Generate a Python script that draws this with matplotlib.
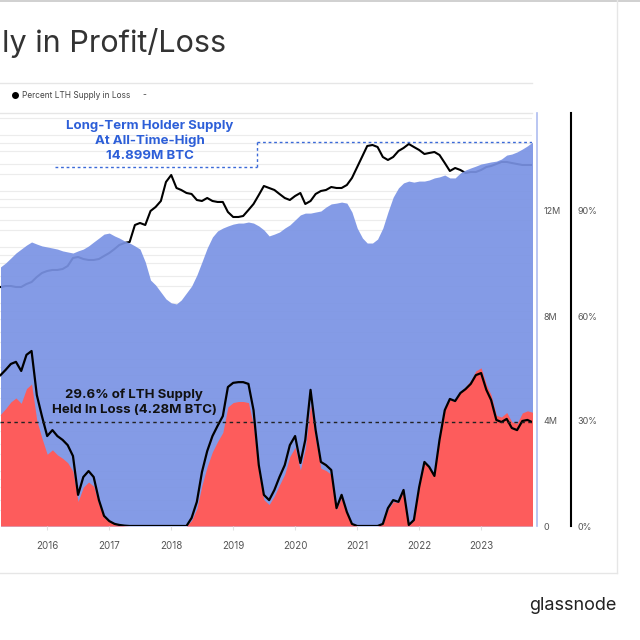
import matplotlib
matplotlib.use("Agg")
import matplotlib.pyplot as plt
from matplotlib.lines import Line2D
import matplotlib.ticker as mticker
import pandas as pd

# monthly values, Apr 2015 .. Nov 2023
lth_total_m = [
    9.87, 10.02, 10.21, 10.40, 10.55, 10.70, 10.82, 10.74, 10.67,                 # 2015
    10.63, 10.59, 10.55, 10.48, 10.44, 10.40, 10.48, 10.55, 10.67, 10.82, 10.97, 11.12,  # 2016
    11.16, 11.05, 10.97, 10.86, 10.78, 10.67, 10.55, 10.06, 9.37, 9.18, 8.91, 8.65,      # 2017
    8.50, 8.46, 8.61, 8.88, 9.14, 9.56, 10.06, 10.59, 11.01, 11.24, 11.35, 11.43,        # 2018
    11.50, 11.54, 11.54, 11.58, 11.54, 11.43, 11.28, 11.05, 11.12, 11.20, 11.35, 11.47,  # 2019
    11.66, 11.85, 11.92, 11.92, 11.96, 12.00, 12.15, 12.27, 12.30, 12.34, 12.30, 11.96,  # 2020
    11.35, 10.97, 10.78, 10.78, 10.93, 11.35, 11.96, 12.53, 12.88, 13.07, 13.14, 13.10,  # 2021
    13.14, 13.14, 13.18, 13.26, 13.30, 13.37, 13.26, 13.26, 13.45, 13.56, 13.64, 13.71,  # 2022
    13.79, 13.83, 13.87, 13.90, 13.98, 14.13, 14.17, 14.25, 14.36, 14.48, 14.63,         # 2023
]

pct_loss = [
    43.1, 44.6, 46.3, 46.9, 44.3, 48.9, 50.0, 37.4, 31.4,
    25.7, 27.4, 25.7, 24.6, 23.1, 20.0, 8.9, 14.0, 15.7, 14.0, 7.4, 2.9,
    1.4, 0.6, 0.3, 0.1, 0, 0, 0, 0, 0, 0, 0, 0,
    0, 0, 0, 0, 2.3, 6.9, 15.4, 21.4, 25.7, 28.6, 31.4, 39.7,
    40.9, 41.1, 41.1, 40.6, 33.1, 17.4, 8.9, 7.4, 10.3, 14.0, 17.4, 23.1,
    25.7, 18.0, 24.6, 38.9, 27.4, 18.3, 17.4, 16.0, 5.1, 8.9, 4.0, 0.6,
    0, 0, 0, 0, 0, 0.6, 5.1, 7.4, 6.9, 10.3, 0.3, 1.7,
    11.1, 18.3, 16.9, 14.3, 24.6, 33.1, 36.3, 35.7, 38.0, 39.1, 40.6, 43.1,
    43.7, 38.9, 36.0, 30.3, 29.7, 30.6, 28.0, 27.4, 30.0, 30.3, 29.6,
]

btc_price = [
    190, 198, 198, 190, 190, 215, 233, 287, 338,
    367, 383, 383, 398, 451, 627, 653, 601, 577, 577, 601, 680,
    770, 907, 1069, 1162, 1211, 2433, 2643, 2433, 4327, 5101, 6527, 14256,
    19011, 11140, 10263, 9072, 8707, 6800, 6527, 7385, 6527, 6271, 6271, 4153,
    3381, 3381, 3523, 4508, 5769, 8354, 12093, 11140, 10263, 8707, 7385, 6800,
    8017, 9072, 5769, 6527, 8707, 9848, 10263, 11600, 11140, 11140, 12600, 16808,
    26410, 41540, 62640, 65280, 60110, 39850, 35230, 39850, 51000, 57700, 68020, 60110,
    53140, 45070, 46970, 48930, 43270, 31140, 22410, 25360, 23350, 20650, 21500, 21500,
    23350, 26410, 27520, 29880, 32450, 32450, 31140, 29880, 28690, 28690, 28690,
]

years = ["2016", "2017", "2018", "2019", "2020", "2021", "2022", "2023"]

dates = pd.date_range("2015-04-01", periods=len(lth_total_m), freq="MS")
lth_loss_m = [t * p / 100 for t, p in zip(lth_total_m, pct_loss)]

plt.rcParams["font.family"] = ["Inter", "DejaVu Sans"]

W = H = 640
def fx(px):
    return px / W
def fy(py):
    return 1 - py / H

fig = plt.figure(figsize=(6.4, 6.4), dpi=100)
fig.patch.set_facecolor("white")

rect = [fx(0), fy(526), fx(532), (526 - 113) / H]
xmin, xmax = pd.Timestamp("2015-03-29"), pd.Timestamp("2023-10-28")

# price (log) axes at the bottom of the stack
axp = fig.add_axes(rect)
axp.set_yscale("log")
axp.set_ylim(10 ** -1.989, 10 ** 5.386)
axp.set_xlim(xmin, xmax)
axp.yaxis.set_major_locator(mticker.LogLocator(base=10, subs=(1, 2, 3, 5, 7), numticks=20))
axp.yaxis.set_minor_locator(mticker.NullLocator())
axp.grid(axis="y", color="#ececec", lw=0.8)
axp.plot(dates, btc_price, color="black", lw=1.5, zorder=3)
axp.set_yticklabels([])
axp.tick_params(axis="y", length=0)
axp.tick_params(axis="x", bottom=False, labelbottom=False)
for s in axp.spines.values():
    s.set_visible(False)

# supply axes
ax = fig.add_axes(rect, sharex=axp)
ax.patch.set_visible(False)
ax.fill_between(dates, 0, lth_total_m, color="#7a93e4", alpha=0.92, lw=0)
ax.fill_between(dates, 0, lth_loss_m, color="#fd5c5c", lw=0)
ax.set_ylim(0, 413 / 26.25)
ax.set_yticks([0, 4, 8, 12])
ax.set_yticklabels(["0", "4M", "8M", "12M"])
ax.yaxis.tick_right()
ax.tick_params(axis="y", length=0, pad=4.5, labelsize=6.5, labelcolor="#555555")
for k in ["top", "left", "bottom"]:
    ax.spines[k].set_visible(False)
ax.spines["right"].set_position(("outward", 3.6))
ax.spines["right"].set_color("#aebcf0")
ax.spines["right"].set_linewidth(1.2)

# ATH dashed guide
ath = lth_total_m[-1]
ux0, ux1 = pd.Timestamp("2016-02-16"), pd.Timestamp("2019-05-21")
uy = (526 - 167) / 26.25
dash_kw = dict(color="#3b6ad8", lw=1.0, dashes=(2, 2))
ax.plot([ux0, ux1], [uy, uy], **dash_kw)
ax.plot([ux1, ux1], [uy, ath], **dash_kw)
ax.plot([ux1, dates[-1]], [ath, ath], **dash_kw)

ax.tick_params(axis="x", length=3, color="#e0e0e0", pad=8, labelsize=7, labelcolor="#555555")
ax.set_xticks([pd.Timestamp(y + "-01-01") for y in years])
ax.set_xticklabels(years)
ax.set_xlim(xmin, xmax)

# percent axes on top
axc = fig.add_axes(rect, sharex=axp)
axc.patch.set_visible(False)
axc.plot(dates, pct_loss, color="black", lw=1.6)
axc.axhline(pct_loss[-1], color="#222222", lw=1.0, dashes=(2.5, 2.5))
axc.set_ylim(0, 413 / 3.5)
axc.set_yticks([0, 30, 60, 90])
axc.set_yticklabels(["0%", "30%", "60%", "90%"])
axc.yaxis.tick_right()
axc.tick_params(axis="y", length=0, pad=4.5, labelsize=6.5, labelcolor="#555555")
axc.tick_params(axis="x", bottom=False, labelbottom=False)
for k in ["top", "left", "bottom"]:
    axc.spines[k].set_visible(False)
axc.spines["right"].set_position(("outward", 28.1))
axc.spines["right"].set_color("black")
axc.spines["right"].set_linewidth(1.5)
axc.set_xlim(xmin, xmax)

# annotations
fig.text(fx(150), fy(141), "Long-Term Holder Supply\nAt All-Time-High\n14.899M BTC",
         ha="center", va="center", fontsize=9.5, fontweight="bold", color="#2d5fd8",
         linespacing=1.35)
fig.text(fx(134), fy(402), "29.6% of LTH Supply\nHeld In Loss (4.28M BTC)",
         ha="center", va="center", fontsize=9.5, fontweight="bold", color="#111111",
         linespacing=1.35)

# header (cropped in the source screenshot), legend and card frame
fig.text(fx(2), fy(43), "ly in Profit/Loss", ha="left", va="center",
         fontsize=22, color="#333333")
fig.add_artist(Line2D([fx(15)], [fy(95)], marker="o", ms=4, color="black",
                      transform=fig.transFigure))
fig.text(fx(22), fy(95), "Percent LTH Supply in Loss", ha="left", va="center",
         fontsize=6, color="#444444")
fig.text(fx(142), fy(95), "-", ha="left", va="center", fontsize=6, color="#444444")

line_kw = dict(transform=fig.transFigure, color="#e6e6e6", lw=1.0)
fig.add_artist(Line2D([0, 1], [fy(1), fy(1)], color="#c8c8c8", lw=1.2, transform=fig.transFigure))
fig.add_artist(Line2D([0, fx(532)], [fy(83), fy(83)], **line_kw))
fig.add_artist(Line2D([0, fx(532)], [fy(113), fy(113)], **line_kw))
fig.add_artist(Line2D([fx(617), fx(617)], [fy(0), fy(573)], **line_kw))
fig.add_artist(Line2D([0, fx(617)], [fy(573), fy(573)], **line_kw))

fig.text(fx(617), fy(606), "glassnode", ha="right", va="center", fontsize=13, color="#222222")

fig.savefig("out.png", dpi=100, facecolor="white")
